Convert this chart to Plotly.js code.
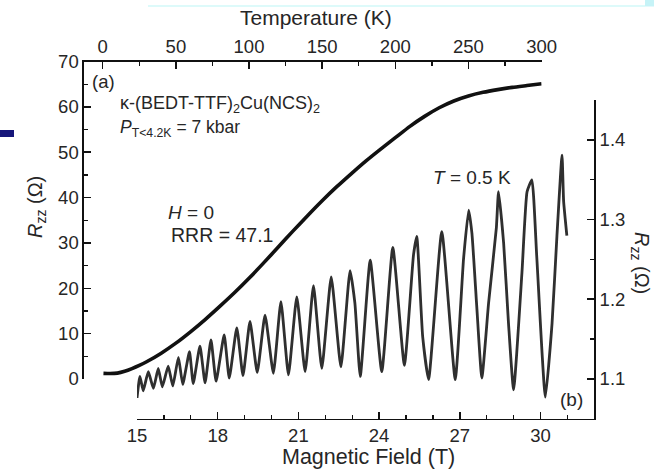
<!DOCTYPE html>
<html><head><meta charset="utf-8">
<script src="https://cdn.plot.ly/plotly-3.0.1.min.js"></script>
<style>html,body{margin:0;padding:0;background:#fff;} #chart{width:654px;height:469px;}</style>
</head><body><div id="chart"></div>
<script>
// Panel (a): zero-field R_zz vs temperature
const tempK = [0.5, 5, 10, 15, 20, 25, 30, 40, 50, 60, 70, 80, 90, 100, 110, 120, 130, 140, 150, 160, 170, 180, 190, 200, 210, 220, 230, 240, 250, 260, 270, 280, 290, 300];
const rzzZeroField = [1.25, 1.2, 1.3, 1.7, 2.3, 3.0, 3.8, 5.7, 7.9, 10.4, 13.1, 16.0, 19.0, 22.2, 25.6, 29.1, 32.6, 36.0, 39.3, 42.4, 45.3, 48.1, 50.7, 53.2, 55.7, 57.9, 59.8, 61.3, 62.4, 63.2, 63.8, 64.3, 64.7, 65.1];

// Panel (b): R_zz vs magnetic field at T = 0.5 K (peaks, troughs and shoulders)
const fieldT = [15.0, 15.11, 15.23, 15.42, 15.61, 15.79, 15.94, 16.16, 16.33, 16.54, 16.70, 16.95, 17.09, 17.34, 17.53, 17.75, 17.94, 18.24, 18.43, 18.71, 18.94, 19.20, 19.47, 19.76, 20.07, 20.35, 20.63, 20.94, 21.25, 21.56, 21.87, 22.22, 22.58, 22.92, 23.10, 23.30, 23.67, 24.10, 24.51, 24.94, 25.28, 25.40, 25.62, 25.84, 26.33, 26.83, 27.14, 27.33, 27.45, 27.63, 27.82, 28.07, 28.36, 28.44, 28.63, 28.81, 29.00, 29.31, 29.50, 29.68, 29.86, 30.18, 30.43, 30.61, 30.80, 30.86, 30.98];
const rzzHalfKelvin = [1.076, 1.103, 1.085, 1.109, 1.088, 1.113, 1.090, 1.116, 1.091, 1.127, 1.093, 1.134, 1.094, 1.141, 1.095, 1.149, 1.097, 1.155, 1.101, 1.164, 1.104, 1.172, 1.108, 1.180, 1.107, 1.197, 1.105, 1.203, 1.109, 1.217, 1.113, 1.228, 1.115, 1.236, 1.195, 1.103, 1.249, 1.109, 1.265, 1.117, 1.256, 1.279, 1.153, 1.099, 1.285, 1.099, 1.251, 1.312, 1.283, 1.191, 1.101, 1.195, 1.290, 1.335, 1.270, 1.170, 1.086, 1.233, 1.335, 1.350, 1.254, 1.077, 1.170, 1.279, 1.381, 1.323, 1.280];

// Tick labels
const tempTicks = [0, 50, 100, 150, 200, 250, 300];
const leftTicks = [0, 10, 20, 30, 40, 50, 60, 70];
const fieldTicks = [15, 18, 21, 24, 27, 30];
const rightTicks = [1.1, 1.2, 1.3, 1.4];
const rightTickText = ['1.1', '1.2', '1.3', '1.4'];

const W = 654, H = 469;
const px = x => x / W, py = y => 1 - y / H;
const F = 'Liberation Sans, Arial, Helvetica, sans-serif';
const TXT = '#262626';

const axBase = {
  showline: true, linecolor: '#111', linewidth: 1.6,
  ticks: 'inside', ticklen: 7, tickwidth: 1.5, tickcolor: '#111',
  showgrid: false, zeroline: false, fixedrange: true,
  tickfont: {family: F, size: 18.5, color: TXT}
};
const minorBase = {ticks: 'inside', ticklen: 4, tickwidth: 1.3, tickcolor: '#111', showgrid: false};

const traces = [
  {x: tempK, y: rzzZeroField, xaxis: 'x', yaxis: 'y', mode: 'lines', type: 'scatter',
   line: {color: '#111', width: 3.6, shape: 'spline', smoothing: 0.6}, hoverinfo: 'skip'},
  {x: fieldT, y: rzzHalfKelvin, xaxis: 'x2', yaxis: 'y2', mode: 'lines', type: 'scatter',
   line: {color: '#2f2f2f', width: 2.8, shape: 'spline', smoothing: 0.45}, hoverinfo: 'skip'}
];

function ann(text, x, y, o) {
  return Object.assign({text: text, x: px(x), y: py(y), xref: 'paper', yref: 'paper', showarrow: false,
    font: {family: F, size: 18.5, color: TXT}, xanchor: 'center', yanchor: 'middle', borderpad: 0}, o || {});
}

const layout = {
  width: W, height: H, margin: {l: 0, r: 0, t: 0, b: 0},
  paper_bgcolor: '#fff', plot_bgcolor: 'rgba(0,0,0,0)', showlegend: false,
  xaxis: Object.assign({}, axBase, {domain: [px(84), px(541.6)], range: [-12.8, 300], side: 'top', anchor: 'y',
    tickvals: tempTicks, ticktext: tempTicks.map(String), minor: Object.assign({}, minorBase, {tickvals: [25, 75, 125, 175, 225, 275]})}),
  yaxis: Object.assign({}, axBase, {domain: [py(379), py(61.5)], range: [0, 70], side: 'left', anchor: 'x',
    tickvals: leftTicks, ticktext: leftTicks.map(String), minor: Object.assign({}, minorBase, {tickvals: [5, 15, 25, 35, 45, 55, 65]})}),
  xaxis2: Object.assign({}, axBase, {domain: [px(137), px(594.3)], range: [15, 32], side: 'bottom', anchor: 'y2',
    tickvals: fieldTicks, ticktext: fieldTicks.map(String), minor: Object.assign({}, minorBase, {tickvals: [16, 17, 19, 20, 22, 23, 25, 26, 28, 29, 31]})}),
  yaxis2: Object.assign({}, axBase, {domain: [py(418.6), py(100.2)], range: [1.05, 1.45], side: 'right', anchor: 'x2',
    tickvals: rightTicks, ticktext: rightTickText, minor: Object.assign({}, minorBase, {tickvals: [1.15, 1.25, 1.35, 1.4499]})}),
  annotations: [
    ann('Temperature (K)', 316, 18, {font: {family: F, size: 21, color: TXT}}),
    ann('Magnetic Field (T)', 369, 457, {font: {family: F, size: 21.5, color: TXT}}),
    ann('<i>R</i><sub>zz</sub> (Ω)', 36, 207, {textangle: -90, font: {family: F, size: 20, color: TXT}}),
    ann('<i>R</i><sub>zz</sub> (Ω)', 641, 263, {textangle: 90, font: {family: F, size: 20, color: TXT}}),
    ann('(a)', 91, 81, {xanchor: 'left'}),
    ann('κ-(BEDT-TTF)<sub>2</sub>Cu(NCS)<sub>2</sub>', 119, 104, {xanchor: 'left', font: {family: F, size: 18, color: TXT}}),
    ann('<i>P</i><sub>T&lt;4.2K</sub> = 7 kbar', 119, 129, {xanchor: 'left', font: {family: F, size: 17.5, color: TXT}}),
    ann('<i>H</i> = 0', 167, 212, {xanchor: 'left', font: {family: F, size: 19, color: TXT}}),
    ann('RRR = 47.1', 170, 235, {xanchor: 'left', font: {family: F, size: 19.5, color: TXT}}),
    ann('<i>T</i> = 0.5 K', 432, 177, {xanchor: 'left', font: {family: F, size: 19, color: TXT}}),
    ann('(b)', 559, 399, {xanchor: 'left', font: {family: F, size: 19, color: TXT}})
  ],
  shapes: [
    {type: 'line', xref: 'paper', yref: 'paper', x0: px(148), x1: px(645), y0: py(6), y1: py(6), line: {color: '#d2f8f8', width: 1.5}},
    {type: 'rect', xref: 'paper', yref: 'paper', x0: px(645), x1: px(654), y0: py(0), y1: py(6.5), line: {width: 0}, fillcolor: '#c6f3f7'},
    {type: 'rect', xref: 'paper', yref: 'paper', x0: px(0), x1: px(14), y0: py(130), y1: py(137), line: {width: 0}, fillcolor: '#16167a'}
  ]
};

Plotly.newPlot('chart', traces, layout, {displayModeBar: false, staticPlot: true});
</script></body></html>
